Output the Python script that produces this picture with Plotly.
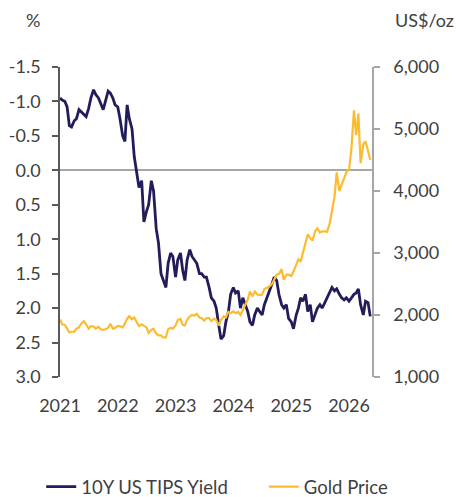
import pandas as pd
import plotly.graph_objects as go

# semi-monthly observation dates (1st and 15th), Jan 2021 - May 2026
dates = pd.date_range("2021-01-01", "2026-05-15", freq="SMS")

tips_yield = [
    -1.05, -1.02, -1.00, -0.92, -0.65, -0.63, -0.72, -0.75, -0.88, -0.85, -0.82, -0.78,
    -0.90, -1.05, -1.17, -1.10, -1.05, -0.98, -0.88, -1.00, -1.15, -1.12, -1.05, -0.95,
    -0.92, -0.75, -0.50, -0.42, -0.95, -0.75, -0.60, -0.20, 0.05, 0.25, 0.15, 0.75,
    0.60, 0.50, 0.15, 0.30, 0.85, 1.05, 1.50, 1.60, 1.70, 1.35, 1.20, 1.25,
    1.55, 1.30, 1.20, 1.45, 1.60, 1.30, 1.15, 1.25, 1.30, 1.35, 1.50, 1.50,
    1.55, 1.55, 1.70, 1.85, 1.90, 2.00, 2.25, 2.45, 2.40, 2.20, 2.05, 1.80,
    1.70, 1.78, 1.75, 2.00, 1.85, 1.95, 2.05, 2.20, 2.25, 2.10, 2.00, 2.05,
    2.10, 1.95, 1.85, 1.75, 1.65, 1.55, 1.60, 1.80, 1.95, 2.00, 1.95, 2.15,
    2.20, 2.30, 2.10, 2.00, 1.85, 1.90, 1.80, 2.05, 1.95, 2.20, 2.10, 2.00,
    1.95, 2.00, 1.92, 1.85, 1.75, 1.70, 1.75, 1.72, 1.80, 1.85, 1.88, 1.85,
    1.90, 1.85, 1.80, 1.78, 1.72, 1.95, 2.10, 1.90, 1.92, 2.12,
]

gold_price = [
    1930, 1850, 1840, 1780, 1720, 1730, 1730, 1780, 1800, 1860, 1900, 1850,
    1780, 1820, 1815, 1780, 1810, 1770, 1760, 1770, 1790, 1860, 1780, 1790,
    1820, 1820, 1800, 1860, 1940, 1980, 1930, 1960, 1880, 1820, 1850, 1830,
    1800, 1710, 1760, 1780, 1700, 1670, 1670, 1640, 1640, 1770, 1790, 1780,
    1830, 1920, 1940, 1840, 1830, 1920, 1980, 2000, 1990, 2020, 1960, 1950,
    1910, 1950, 1950, 1900, 1940, 1920, 1830, 1920, 1980, 1960, 2050, 2030,
    2060, 2030, 2050, 2000, 2080, 2160, 2250, 2380, 2300, 2380, 2330, 2320,
    2330, 2420, 2440, 2460, 2500, 2580, 2650, 2660, 2740, 2570, 2650, 2650,
    2630, 2700, 2800, 2900, 2860, 2990, 3130, 3300, 3240, 3200, 3350, 3400,
    3330, 3350, 3350, 3340, 3480, 3680, 3900, 4300, 4000, 4100, 4200, 4300,
    4350, 4650, 5300, 4900, 5250, 4450, 4750, 4800, 4650, 4500,
]

left_ticks = [-1.5, -1.0, -0.5, 0.0, 0.5, 1.0, 1.5, 2.0, 2.5, 3.0]
left_labels = ["-1.5", "-1.0", "-0.5", "0.0", "0.5", "1.0", "1.5", "2.0", "2.5", "3.0"]

navy = "#211D5A"
gold = "#FDBB30"
text_col = "#404040"
font = "Lato"

fig = go.Figure()

fig.add_trace(go.Scatter(
    x=dates, y=tips_yield, name="10Y US TIPS Yield", mode="lines",
    line=dict(color=navy, width=2.8), yaxis="y", legend="legend",
))
fig.add_trace(go.Scatter(
    x=dates, y=gold_price, name="Gold Price", mode="lines",
    line=dict(color=gold, width=2.2), yaxis="y2", legend="legend2",
))

legend_common = dict(
    orientation="h", yref="container", y=0.02, yanchor="middle",
    xref="container", xanchor="left",
    font=dict(size=18.5, color=text_col), bgcolor="rgba(0,0,0,0)",
)

fig.update_layout(
    width=458, height=497,
    margin=dict(l=60, r=86, t=67, b=120),
    paper_bgcolor="white", plot_bgcolor="white",
    font=dict(family=font, size=18, color=text_col),
    showlegend=True,
    legend=dict(x=0.09, **legend_common),
    legend2=dict(x=0.576, **legend_common),
    xaxis=dict(
        range=["2021-01-01", "2026-05-26"], tickformat="%Y", dtick="M12",
        tick0="2021-01-01", showgrid=False, showline=False, ticks="",
        ticklabelstandoff=16, automargin=False,
        tickfont=dict(size=18, color=text_col),
    ),
    yaxis=dict(
        range=[3.0, -1.5], tickvals=left_ticks, ticktext=left_labels, showgrid=False,
        showline=True, linecolor="#595959", linewidth=1.5,
        ticks="outside", ticklen=6, tickcolor="#595959", tickwidth=1.5,
        ticklabelstandoff=8, automargin=False,
        zeroline=True, zerolinecolor="#A6A6A6", zerolinewidth=2,
        tickfont=dict(size=18, color=text_col),
    ),
    yaxis2=dict(
        range=[1000, 6000], dtick=1000, tickformat=",", overlaying="y", side="right",
        showgrid=False, showline=True, linecolor="#A6A6A6", linewidth=1.5,
        ticks="outside", ticklen=6, tickcolor="#A6A6A6", tickwidth=1.5,
        ticklabelstandoff=10, automargin=False,
        zeroline=False, tickfont=dict(size=18, color=text_col),
    ),
    annotations=[
        dict(text="%", xref="paper", yref="paper", x=-0.087, y=1.152,
             xanchor="center", yanchor="middle",
             showarrow=False, font=dict(size=18, color=text_col)),
        dict(text="US$/oz", xref="paper", yref="paper", x=1.167, y=1.152,
             xanchor="center", yanchor="middle",
             showarrow=False, font=dict(size=18, color=text_col)),
    ],
)

fig.write_html(
    "out.html",
    config={"displayModeBar": False},
    post_script="document.body.style.margin='0';",
)
